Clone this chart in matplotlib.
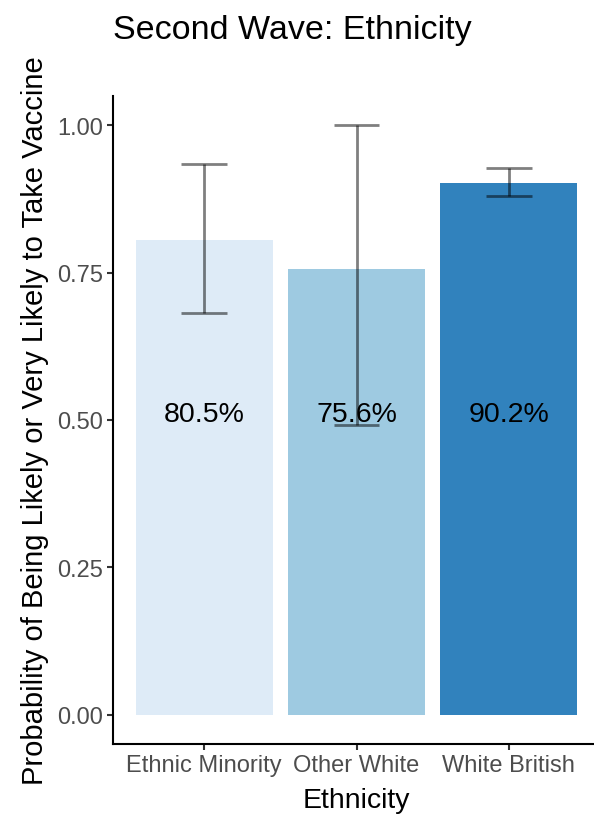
import matplotlib
matplotlib.use("Agg")
import matplotlib.pyplot as plt

plt.rcParams['font.family'] = ['Liberation Sans', 'DejaVu Sans']

categories = ["Ethnic Minority", "Other White", "White British"]
probability = [0.805, 0.756, 0.902]
ci_lower = [0.681, 0.492, 0.881]
ci_upper = [0.934, 1.000, 0.927]
bar_colors = ["#DEEBF7", "#9ECAE1", "#3182BD"]
y_ticks = [0.00, 0.25, 0.50, 0.75, 1.00]
label_y = 0.5

fig = plt.figure(figsize=(5.94, 8.2), dpi=100)
ax = fig.add_axes([113 / 594, 1 - 745 / 820, 487 / 594, (745 - 97) / 820])

x = list(range(1, len(categories) + 1))
ax.bar(x, probability, width=0.9, color=bar_colors, zorder=1)

for xi, lo, hi in zip(x, ci_lower, ci_upper):
    ax.plot([xi, xi], [lo, hi], color="black", alpha=0.5, lw=2, zorder=2,
            solid_capstyle="butt")
    for yv in (lo, hi):
        ax.plot([xi - 0.15, xi + 0.15], [yv, yv], color="black", alpha=0.5,
                lw=2, zorder=2, solid_capstyle="butt")

for xi, p in zip(x, probability):
    ax.annotate(f"{p * 100:.1f}%", xy=(xi, label_y), xytext=(0, 4.5),
                textcoords="offset points", ha="center", va="center",
                fontsize=20.5, color="black", zorder=3)

ax.set_xlim(0.4, 3.6)
ax.set_ylim(-0.05, 1.05)
ax.set_xticks(x)
ax.set_xticklabels(categories)
ax.set_yticks(y_ticks)
ax.set_yticklabels([f"{t:.2f}" for t in y_ticks])

for side in ("top", "right"):
    ax.spines[side].set_visible(False)
for side in ("left", "bottom"):
    ax.spines[side].set_linewidth(1.5)
    ax.spines[side].set_color("black")

ax.tick_params(axis="both", length=4, width=1.5, color="#333333",
               labelcolor="#4D4D4D", labelsize=17, pad=3)

ax.set_xlabel("Ethnicity", fontsize=20.5, color="black", labelpad=8)
ax.set_ylabel("Probability of Being Likely or Very Likely to Take Vaccine",
              fontsize=21, color="black", labelpad=6)
ax.set_title("Second Wave: Ethnicity", fontsize=24.5, color="black",
             loc="left", pad=42, x=0.0)

fig.savefig("out.png", dpi=100)
